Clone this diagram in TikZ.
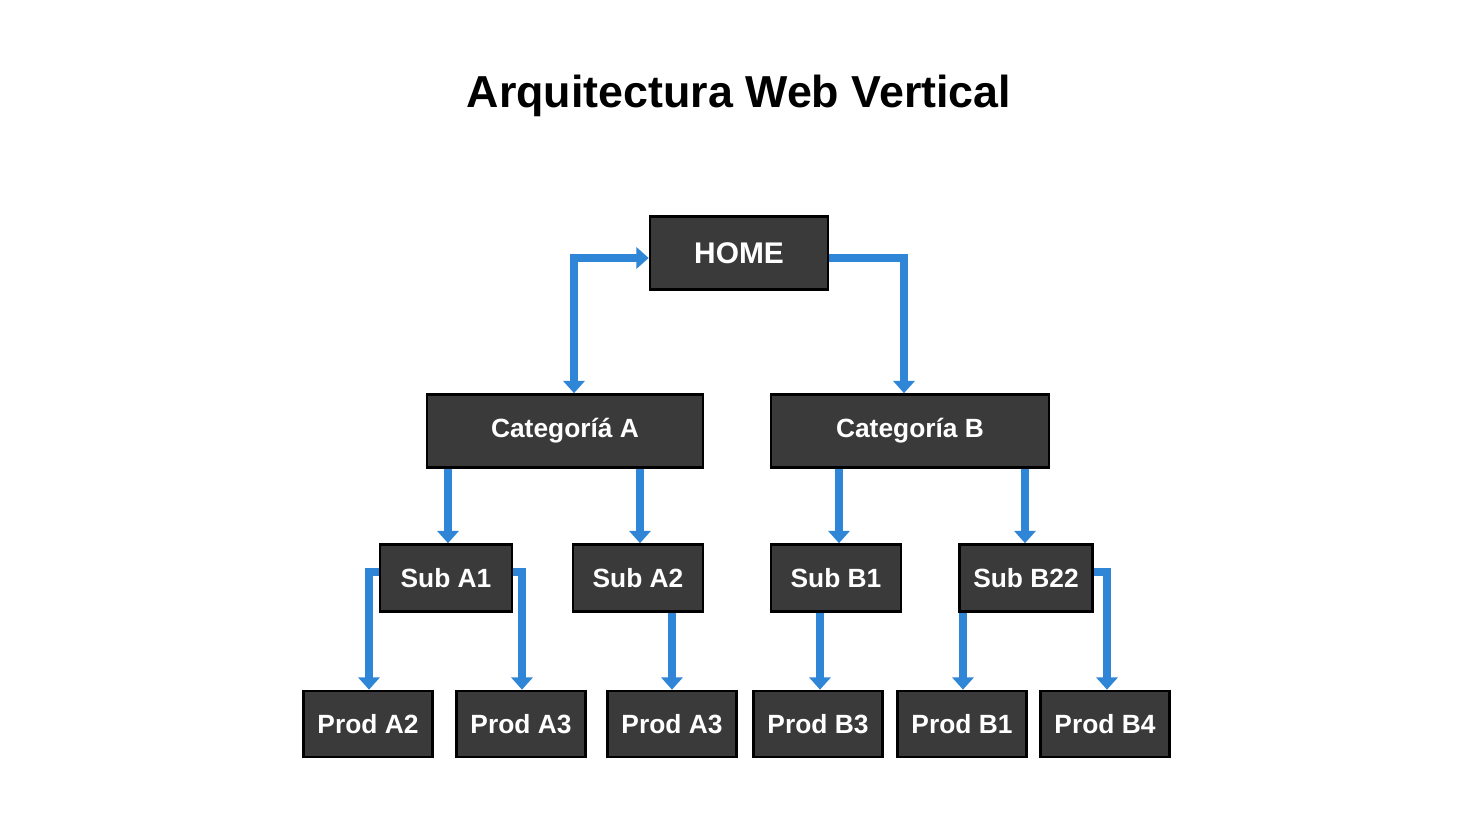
\documentclass[tikz,border=0pt]{standalone}
\usepackage{fontspec}
\setmainfont{Liberation Sans}
\usetikzlibrary{arrows.meta,backgrounds}
\definecolor{boxgray}{HTML}{3A3A3A}
\definecolor{linkblue}{HTML}{2F86D6}
\pgfdeclarelayer{links}
\pgfsetlayers{background,links,main}

\begin{document}
\begin{tikzpicture}[
    x=0.02cm, y=-0.02cm,
    show background rectangle,
    tight background=0,
    background rectangle/.style={fill=white},
    page/.style={draw=black, line width=1.5pt, fill=boxgray, text=white,
        font=\bfseries\fontsize{15}{18}\selectfont, inner sep=0pt},
    link/.style={draw=linkblue, line width=4.5pt,
        -{Triangle[width=12pt,length=7pt]}},
 ]
    \useasboundingbox (0,0) rectangle (1472,832);
    \node[font=\bfseries\fontsize{25.5}{30}\selectfont] (title) at (739,96) {Arquitectura Web Vertical};

    % bend points of the links
    \coordinate (homeL) at (574,258);
    \coordinate (homeR) at (904,258);
    \coordinate (a1L) at (369,572);
    \coordinate (a1R) at (522,572);
    \coordinate (b2R) at (1107,572);

    \node[page, minimum width=3.56cm, minimum height=1.46cm, font=\bfseries\fontsize{17}{20}\selectfont] at (739,253) (home) {HOME};
    \node[page, minimum width=5.52cm, minimum height=1.46cm] at (565,431) (catA) {Categoríá A};
    \node[page, minimum width=5.56cm, minimum height=1.46cm] at (910,431) (catB) {Categoría B};

    \node[page, minimum width=2.64cm, minimum height=1.34cm] at (446,578) (subA1) {Sub A1};
    \node[page, minimum width=2.6cm, minimum height=1.34cm] at (638,578) (subA2) {Sub A2};
    \node[page, minimum width=2.6cm, minimum height=1.34cm] at (836,578) (subB1) {Sub B1};
    \node[page, minimum width=2.66cm, minimum height=1.34cm] at (1026,578) (subB22) {Sub B22};

    \foreach \x/\n/\t in {368/pA2/Prod A2, 521/pA3/Prod A3, 672/pA3b/Prod A3,
                          818/pB3/Prod B3, 962/pB1/Prod B1, 1105/pB4/Prod B4}
        \node[page, minimum width=2.58cm, minimum height=1.32cm] at (\x,724) (\n) {\t};

    \begin{pgfonlayer}{links}
    \draw[link, {Triangle[width=12pt,length=7pt]}-{Triangle[width=12pt,length=7pt]}]
        (catA.north -| homeL) -- (homeL) -- (home.west |- homeL);
    \draw[link] (home.east |- homeR) -- (homeR) -- (catB.north -| homeR);
    \draw[link] (catA.south -| 448,0) -- (subA1.north -| 448,0);
    \draw[link] (catA.south -| 640,0) -- (subA2.north -| 640,0);
    \draw[link] (catB.south -| 839,0) -- (subB1.north -| 839,0);
    \draw[link] (catB.south -| 1025,0) -- (subB22.north -| 1025,0);
    \draw[link] (subA1.west |- a1L) -- (a1L) -- (pA2.north -| a1L);
    \draw[link] (subA1.east |- a1R) -- (a1R) -- (pA3.north -| a1R);
    \draw[link] (subA2.south -| pA3b) -- (pA3b.north);
    \draw[link] (subB1.south -| 820,0) -- (pB3.north -| 820,0);
    \draw[link] (subB22.south -| 963,0) -- (pB1.north -| 963,0);
    \draw[link] (subB22.east |- b2R) -- (b2R) -- (pB4.north -| b2R);
    \end{pgfonlayer}
\end{tikzpicture}
\end{document}
